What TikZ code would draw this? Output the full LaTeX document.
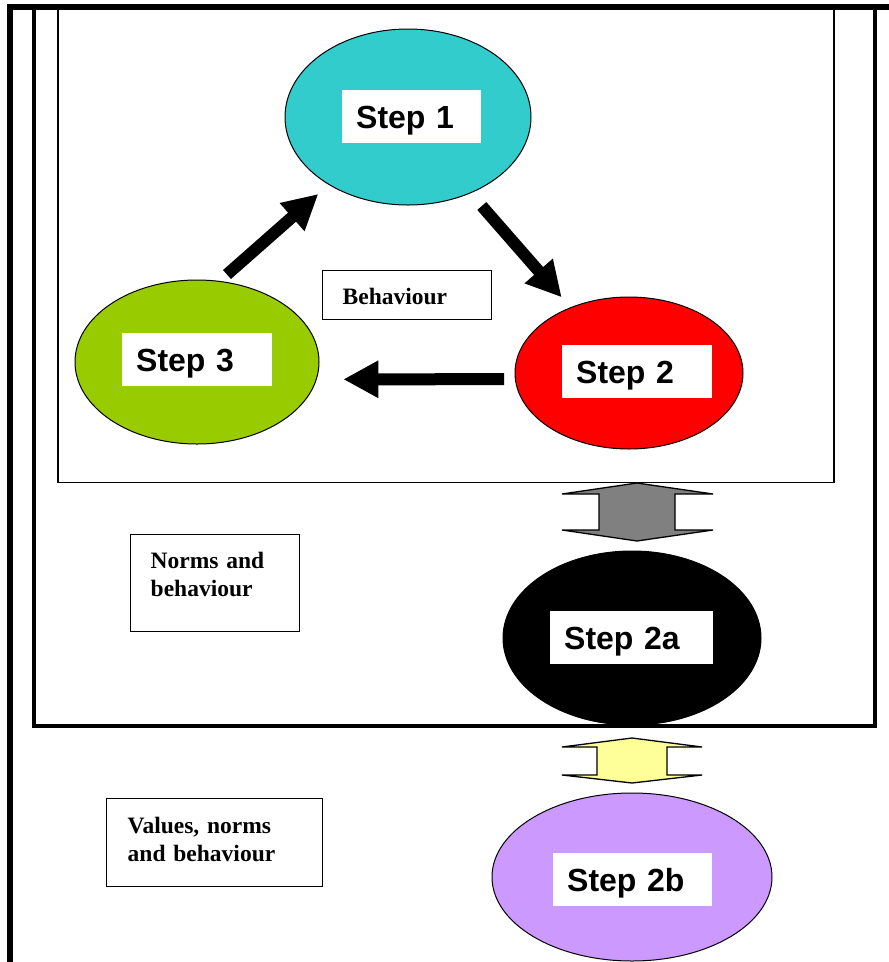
\documentclass[tikz,border=0pt]{standalone}
\usepackage{fontspec}
\setmainfont{Liberation Serif}
\newfontfamily\arialfont{Liberation Sans}
\usetikzlibrary{arrows.meta,shapes.geometric}
\definecolor{tealc}{HTML}{33CCCC}
\definecolor{redc}{HTML}{FF0000}
\definecolor{greenc}{HTML}{99CC00}
\definecolor{purplec}{HTML}{CC99FF}
\definecolor{grayc}{HTML}{808080}
\definecolor{yellowc}{HTML}{FFFF99}
\tikzset{
  stepell/.style={ellipse, draw=black, line width=1pt, inner sep=0pt},
  steplabel/.style={fill=white, anchor=north west, align=left,
    font=\arialfont\bfseries\fontsize{32}{32}\selectfont,
    inner xsep=14pt, inner ysep=0pt, text height=38pt, text depth=15pt},
  textbox/.style={draw=black, line width=1.4pt, fill=white, anchor=north west, align=left,
    font=\bfseries\fontsize{23.5}{28}\selectfont, inner ysep=0pt},
  bigarrow/.style={line width=12pt, -{Triangle[length=35pt,width=35pt]}},
  dblarrow/.style={draw=black, line width=1.3pt, line join=miter},
}
\begin{document}
\begin{tikzpicture}[x=1pt,y=-1pt]
\useasboundingbox (0,0) rectangle (889,962);
\clip (0,0) rectangle (889,962);
% frames
\draw[line width=6pt, line join=miter] (10.3,990) -- (10.3,6.7) -- (900,6.7);
\draw[line width=4pt, line join=miter] (34.2,6.7) -- (34.2,726.3) -- (874.7,726.3) -- (874.7,6.7);
\draw[line width=1.8pt, line join=miter] (58.3,6.7) -- (58.3,482.5) -- (834.3,482.5) -- (834.3,6.7);
% ellipses
\node[stepell, fill=tealc, minimum width=246pt, minimum height=176pt] (s1) at (408,117) {};
\node[stepell, fill=redc, minimum width=228pt, minimum height=152pt] (s2) at (629,373) {};
\node[stepell, fill=greenc, minimum width=244pt, minimum height=164pt] (s3) at (197,362) {};
\node[stepell, fill=black, minimum width=258pt, minimum height=174pt] (s2a) at (632,638) {};
\node[stepell, fill=purplec, minimum width=280pt, minimum height=168pt] (s2b) at (632,877) {};
% step labels
\node[steplabel, text width=111pt] (l1) at (342,90) {Step 1};
\node[steplabel, text width=122pt] (l2) at (562,345) {Step 2};
\node[steplabel, text width=122pt] (l3) at (122,333) {Step 3};
\node[steplabel, text width=135pt] (l2a) at (550,611) {Step 2a};
\node[steplabel, text width=131pt] (l2b) at (553,853) {Step 2b};
% text boxes
\node[textbox, inner xsep=20pt, text width=129pt, text height=34pt, text depth=15pt] (tb1) at (322,270) {Behaviour};
\node[textbox, inner xsep=20pt, text width=129pt, text height=33.7pt, text depth=63.3pt] (tb2) at (130,534) {Norms and\\behaviour};
\node[textbox, inner xsep=21pt, text width=174pt, text height=34.7pt, text depth=53.3pt] (tb3) at (106,798) {Values, norms\\and behaviour};
% cycle arrows
\coordinate (a1s) at (227,274.5);
\coordinate (a1e) at (318.3,194);
\coordinate (a2s) at (481.8,206);
\coordinate (a2e) at (561.7,297.3);
\coordinate (a3s) at (504,379.2);
\coordinate (a3e) at (343.3,379.3);
\draw[bigarrow] (a1s) -- (a1e);
\draw[bigarrow] (a2s) -- (a2e);
\draw[bigarrow] (a3s) -- (a3e);
% double arrows
\filldraw[dblarrow, fill=grayc] (637,483) -- (713,494) -- (675,494) -- (675,530) -- (713,530) -- (637,541) -- (562,530) -- (599,530) -- (599,494) -- (562,494) -- cycle;
\filldraw[dblarrow, fill=yellowc] (632,738) -- (702,747) -- (667,747) -- (667,775) -- (702,775) -- (632,783) -- (562,775) -- (597,775) -- (597,747) -- (562,747) -- cycle;
\end{tikzpicture}
\end{document}
